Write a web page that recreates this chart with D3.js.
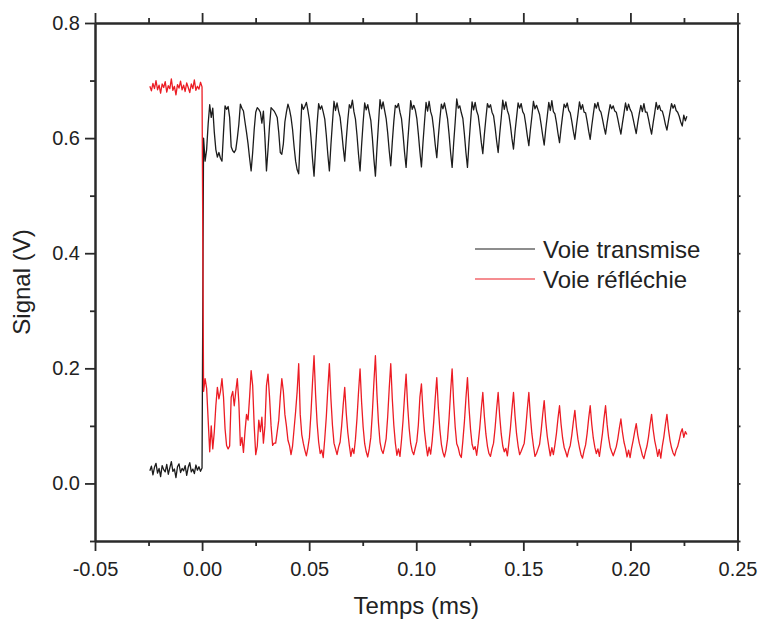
<!DOCTYPE html>
<html><head><meta charset="utf-8">
<script src="https://cdn.jsdelivr.net/npm/d3@7"></script>
<style>
body{margin:0;background:#fff}
text{font-family:"Liberation Sans",Arial,sans-serif;fill:#222}
</style>
</head><body>
<svg id="chart" width="760" height="620"></svg>
<script>
// ---------- data ----------
const seriesNames = ["Voie transmise", "Voie réfléchie"];
const xTickValues = [-0.05, 0, 0.05, 0.1, 0.15, 0.2, 0.25];
const xTickLabels = ["-0.05", "0.00", "0.05", "0.10", "0.15", "0.20", "0.25"];
const xMinorValues = [-0.025, 0.025, 0.075, 0.125, 0.175, 0.225];
const yTickValues = [0, 0.2, 0.4, 0.6, 0.8];
const yTickLabels = ["0.0", "0.2", "0.4", "0.6", "0.8"];
const yMinorValues = [-0.1, 0.1, 0.3, 0.5, 0.7];
// sampling of the recorded signals (ms)
const startTime = -0.02438;
const sampleStep = 0.0007164;
// Voie transmise (V)
const transmise = [
0.022,0.030,0.015,0.028,0.035,0.018,0.026,0.012,0.031,0.024,0.020,0.033,0.016,0.027,0.038,0.021,0.025,0.010,0.029,0.034,0.019,0.026,0.022,0.031,0.014,0.028,0.036,0.020,0.025,0.017,0.032,0.023,0.029,0.021,0.027,
0.600,0.560,0.580,0.625,0.658,0.636,0.652,
0.610,0.580,0.567,0.575,0.565,0.560,0.610,0.656,0.650,0.655,
0.636,0.585,0.578,0.575,0.580,0.600,0.624,0.659,0.652,0.647,
0.628,0.610,0.590,0.565,0.543,0.575,0.615,0.645,0.653,0.650,
0.645,0.626,0.647,0.600,0.543,0.580,0.622,0.653,0.650,0.647,
0.642,0.636,0.610,0.575,0.572,0.590,0.628,0.645,0.659,0.650,
0.636,0.615,0.585,0.560,0.545,0.538,0.600,0.659,0.650,0.655,
0.662,0.648,0.631,0.601,0.564,0.534,0.582,0.625,0.660,0.650,
0.656,0.645,0.633,0.605,0.571,0.543,0.588,0.627,0.664,0.648,
0.661,0.647,0.636,0.612,0.584,0.560,0.598,0.631,0.658,0.652,
0.666,0.646,0.633,0.605,0.571,0.543,0.588,0.627,0.661,0.649,
0.658,0.644,0.631,0.601,0.564,0.534,0.582,0.625,0.667,0.651,
0.663,0.648,0.634,0.609,0.578,0.552,0.593,0.629,0.657,0.653,
0.660,0.645,0.634,0.607,0.575,0.549,0.591,0.628,0.665,0.650,
0.657,0.649,0.634,0.607,0.576,0.550,0.592,0.628,0.662,0.647,
0.664,0.646,0.637,0.615,0.588,0.566,0.602,0.633,0.659,0.651,
0.661,0.648,0.634,0.607,0.575,0.549,0.591,0.628,0.668,0.652,
0.656,0.644,0.634,0.607,0.575,0.549,0.591,0.628,0.663,0.649,
0.662,0.647,0.639,0.618,0.593,0.573,0.606,0.634,0.660,0.653,
0.658,0.645,0.639,0.619,0.595,0.575,0.607,0.635,0.666,0.650,
0.663,0.648,0.640,0.622,0.599,0.581,0.611,0.636,0.661,0.652,
0.660,0.646,0.641,0.624,0.604,0.587,0.614,0.638,0.664,0.651,
0.657,0.649,0.641,0.624,0.605,0.588,0.615,0.638,0.662,0.648,
0.665,0.646,0.642,0.627,0.608,0.592,0.617,0.639,0.659,0.653,
0.661,0.648,0.644,0.629,0.612,0.598,0.621,0.641,0.663,0.650,
0.658,0.645,0.644,0.629,0.612,0.598,0.621,0.641,0.660,0.652,
0.662,0.649,0.645,0.633,0.619,0.607,0.626,0.643,0.658,0.651,
0.656,0.647,0.645,0.633,0.619,0.607,0.626,0.643,0.661,0.648,
0.659,0.650,0.645,0.633,0.620,0.608,0.627,0.643,0.657,0.646,
0.660,0.645,0.645,0.633,0.619,0.607,0.626,0.643,0.662,0.650,
0.657,0.648,0.647,0.637,0.624,0.614,0.630,0.645,0.660,0.652,
0.658,0.648,0.645,0.638,0.628,0.621,0.640,0.630,0.638
];
// Voie réfléchie (V)
const reflechie = [
0.690,0.682,0.695,0.686,0.700,0.684,0.692,0.678,0.694,0.688,0.698,0.680,0.691,0.686,0.703,0.683,0.690,0.675,0.693,0.687,0.699,0.684,0.692,0.681,0.696,0.688,0.679,0.694,0.686,0.701,0.683,0.690,0.685,0.697,0.689,
0.160,0.182,0.165,0.110,0.055,0.100,0.060,
0.090,0.135,0.167,0.147,0.160,0.182,0.150,0.095,0.066,0.060,
0.065,0.150,0.160,0.135,0.160,0.182,0.140,0.066,0.080,0.054,
0.090,0.120,0.110,0.150,0.196,0.170,0.100,0.050,0.065,0.110,
0.090,0.115,0.070,0.100,0.170,0.190,0.150,0.100,0.066,0.070,
0.070,0.090,0.110,0.150,0.182,0.160,0.120,0.100,0.075,0.066,
0.050,0.065,0.095,0.125,0.160,0.208,0.120,0.085,0.070,0.058,
0.048,0.062,0.080,0.122,0.175,0.222,0.155,0.105,0.072,0.052,
0.058,0.045,0.078,0.116,0.165,0.208,0.147,0.101,0.070,0.060,
0.050,0.063,0.072,0.100,0.136,0.167,0.122,0.089,0.066,0.047,
0.061,0.052,0.077,0.113,0.159,0.199,0.141,0.098,0.069,0.055,
0.046,0.060,0.080,0.122,0.175,0.222,0.155,0.105,0.072,0.058,
0.052,0.064,0.078,0.116,0.165,0.208,0.147,0.101,0.070,0.049,
0.060,0.047,0.075,0.109,0.152,0.190,0.136,0.096,0.069,0.056,
0.050,0.062,0.073,0.102,0.150,0.173,0.126,0.090,0.067,0.048,
0.063,0.051,0.074,0.107,0.148,0.184,0.132,0.094,0.068,0.054,
0.046,0.058,0.077,0.113,0.159,0.199,0.141,0.098,0.069,0.062,
0.050,0.045,0.074,0.107,0.148,0.184,0.132,0.094,0.068,0.059,
0.064,0.049,0.070,0.096,0.129,0.158,0.117,0.086,0.065,0.052,
0.047,0.060,0.070,0.096,0.129,0.158,0.117,0.086,0.065,0.055,
0.061,0.048,0.070,0.096,0.129,0.158,0.117,0.086,0.065,0.050,
0.056,0.063,0.070,0.096,0.129,0.158,0.117,0.086,0.065,0.047,
0.052,0.060,0.068,0.091,0.119,0.144,0.108,0.082,0.064,0.048,
0.062,0.050,0.067,0.087,0.113,0.135,0.103,0.079,0.063,0.055,
0.046,0.058,0.066,0.084,0.107,0.127,0.098,0.077,0.062,0.050,
0.044,0.057,0.067,0.087,0.113,0.135,0.103,0.079,0.063,0.052,
0.060,0.047,0.067,0.087,0.113,0.135,0.103,0.079,0.063,0.055,
0.048,0.056,0.064,0.078,0.096,0.112,0.089,0.072,0.061,0.046,
0.058,0.045,0.062,0.075,0.090,0.104,0.084,0.070,0.060,0.049,
0.043,0.055,0.065,0.081,0.102,0.120,0.094,0.075,0.062,0.047,
0.059,0.044,0.065,0.081,0.102,0.120,0.094,0.075,0.062,0.053,
0.048,0.058,0.064,0.075,0.088,0.095,0.080,0.090,0.085
];

// ---------- chart ----------
const colors = ["#1c1c1c", "#ec1c24"];
const svg = d3.select("#chart");
const plotLeft = 95, plotRight = 737.5, plotTop = 23, plotBottom = 541;
const x = d3.scaleLinear().domain([-0.05, 0.25]).range([plotLeft, plotRight]);
const y = d3.scaleLinear().domain([-0.1, 0.8]).range([plotBottom, plotTop]);
const axisColor = "#2a2a2a";

function styleAxis(g, showText) {
  g.select(".domain").attr("stroke", axisColor).attr("stroke-width", 2);
  g.selectAll(".tick line").attr("stroke", axisColor).attr("stroke-width", 1.8);
  if (!showText) g.selectAll(".tick text").remove();
  else g.selectAll(".tick text").attr("fill", "#222").style("font-size", "20px")
        .style("font-family", '"Liberation Sans", Arial, sans-serif');
}

const fmtX = d => xTickLabels[xTickValues.indexOf(d)];
const fmtY = d => yTickLabels[yTickValues.indexOf(d)];

// series
const toPoints = arr => arr.map((v, i) => [startTime + i * sampleStep, v]);
const line = d3.line().x(d => x(d[0])).y(d => y(d[1]));
[transmise, reflechie].forEach((s, k) => {
  svg.append("path").datum(toPoints(s)).attr("d", line)
    .attr("fill", "none").attr("stroke", colors[k]).attr("stroke-width", 1.3)
    .attr("stroke-linejoin", "round");
});

// bottom
svg.append("g").attr("transform", `translate(0,${plotBottom})`)
  .call(d3.axisBottom(x).tickValues(xMinorValues).tickSize(5).tickSizeOuter(0))
  .call(g => styleAxis(g, false));
svg.append("g").attr("transform", `translate(0,${plotBottom})`)
  .call(d3.axisBottom(x).tickValues(xTickValues).tickSize(10).tickPadding(11).tickSizeOuter(0).tickFormat(fmtX))
  .call(g => styleAxis(g, true));
// top
svg.append("g").attr("transform", `translate(0,${plotTop})`)
  .call(d3.axisTop(x).tickValues(xMinorValues).tickSize(5).tickSizeOuter(0))
  .call(g => styleAxis(g, false));
svg.append("g").attr("transform", `translate(0,${plotTop})`)
  .call(d3.axisTop(x).tickValues(xTickValues).tickSize(10).tickSizeOuter(0))
  .call(g => styleAxis(g, false));
// left
svg.append("g").attr("transform", `translate(${plotLeft},0)`)
  .call(d3.axisLeft(y).tickValues(yMinorValues).tickSize(5).tickSizeOuter(0))
  .call(g => styleAxis(g, false));
svg.append("g").attr("transform", `translate(${plotLeft},0)`)
  .call(d3.axisLeft(y).tickValues(yTickValues).tickSize(10).tickPadding(5).tickSizeOuter(0).tickFormat(fmtY))
  .call(g => styleAxis(g, true));
// right
svg.append("g").attr("transform", `translate(${plotRight},0)`)
  .call(d3.axisRight(y).tickValues(yTickValues.concat(yMinorValues)).tickSize(3).tickSizeOuter(0))
  .call(g => styleAxis(g, false));

// axis titles
svg.append("text").attr("x", (plotLeft + plotRight) / 2).attr("y", 614)
  .attr("text-anchor", "middle").style("font-size", "24px").text("Temps (ms)");
svg.append("text").attr("transform", `translate(30,${(plotTop + plotBottom) / 2}) rotate(-90)`)
  .attr("text-anchor", "middle").style("font-size", "24px").text("Signal (V)");

// legend
seriesNames.forEach((name, k) => {
  const ly = 249 + k * 30;
  svg.append("line").attr("x1", 475).attr("x2", 535).attr("y1", ly).attr("y2", ly)
    .attr("stroke", colors[k]).attr("stroke-width", 1.1);
  svg.append("text").attr("x", 543).attr("y", ly).attr("dy", "0.36em")
    .style("font-size", "24px").text(name);
});
</script>
</body></html>
